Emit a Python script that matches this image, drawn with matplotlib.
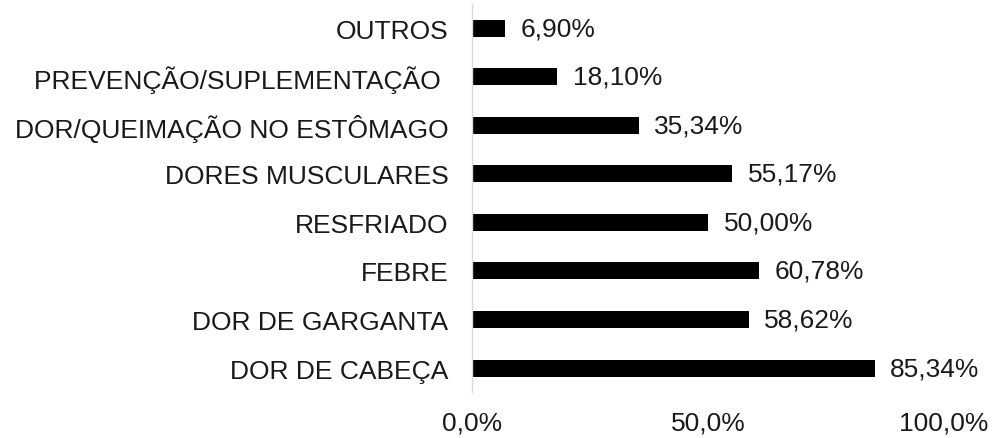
import matplotlib.pyplot as plt
from matplotlib.ticker import FuncFormatter

plt.rcParams['font.family'] = ['Liberation Sans', 'DejaVu Sans']

categorias = ['DOR DE CABEÇA', 'DOR DE GARGANTA', 'FEBRE', 'RESFRIADO',
              'DORES MUSCULARES', 'DOR/QUEIMAÇÃO NO ESTÔMAGO',
              'PREVENÇÃO/SUPLEMENTAÇÃO ', 'OUTROS']
valores = [85.34, 58.62, 60.78, 50.00, 55.17, 35.34, 18.10, 6.90]
ticks_x = [0, 50, 100]

fs = 19
cor_texto = '#1a1a1a'

fig = plt.figure(figsize=(9.92, 4.39), dpi=100)
ax = fig.add_axes([0.4758, 0.104, 0.4758, 0.885])

pos = range(len(categorias))
ax.barh(pos, valores, height=0.35, color='black')

for p, v in zip(pos, valores):
    ax.text(v + 3.3, p, ('%.2f' % v).replace('.', ',') + '%',
            va='center', ha='left', fontsize=fs, color=cor_texto)

ax.set_xlim(0, 100)
ax.set_ylim(-0.5, len(categorias) - 0.5)
ax.set_yticks(list(pos))
ax.set_yticklabels(categorias, fontsize=fs, color=cor_texto)
ax.set_xticks(ticks_x)
ax.xaxis.set_major_formatter(FuncFormatter(lambda x, _: ('%.1f' % x).replace('.', ',') + '%'))
ax.tick_params(axis='x', labelsize=fs, colors=cor_texto, length=0, pad=13)
ax.tick_params(axis='y', length=0, pad=17)

for s in ['top', 'right', 'bottom']:
    ax.spines[s].set_visible(False)
ax.spines['left'].set_color('#d9d9d9')
ax.spines['left'].set_linewidth(1)

fig.savefig('out.png', dpi=100)
